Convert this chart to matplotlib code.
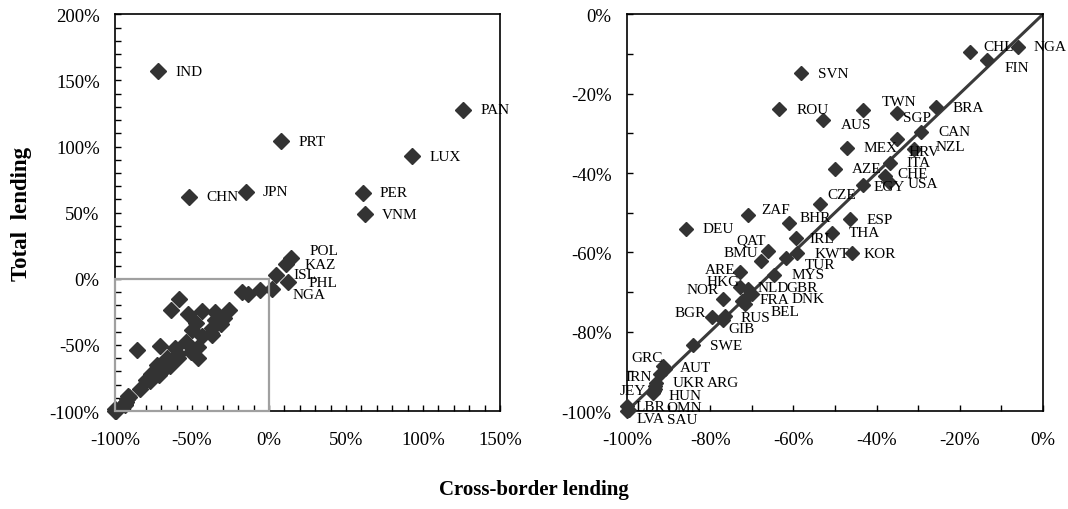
import matplotlib
matplotlib.use("Agg")
import matplotlib.pyplot as plt
from matplotlib.ticker import PercentFormatter, MultipleLocator
from matplotlib.patches import Rectangle, ConnectionPatch

plt.rcParams["font.family"] = ["Liberation Serif", "DejaVu Serif"]
plt.rcParams["axes.unicode_minus"] = False

# countries outside the -100%..0% box (only on the left panel)
out_names = ['IND', 'PAN', 'PRT', 'LUX', 'CHN', 'JPN', 'PER', 'VNM',
             'POL', 'KAZ', 'ISL', 'PHL', 'NGA']
out_cross = [-72, 126, 8, 93, -52, -15, 61, 62, 14.5, 11, 4.5, 12, 2]
out_total = [157, 128, 104, 92.5, 62, 66, 65, 49, 15.5, 11, 3, -2.5, -7.5]

# countries inside the box (both panels, labelled on the right)
in_names = ['CHL', 'FIN', 'NGA', 'SVN', 'ROU', 'AUS', 'TWN', 'SGP', 'BRA', 'CAN',
            'MEX', 'HRV', 'NZL', 'ITA', 'AZE', 'CHE', 'EGY', 'USA', 'CZE', 'ZAF',
            'DEU', 'BHR', 'ESP', 'THA', 'IRL', 'KOR', 'KWT', 'QAT', 'BMU', 'TUR',
            'MYS', 'ARE', 'HKG', 'NOR', 'NLD', 'GBR', 'FRA', 'DNK', 'BEL', 'BGR',
            'RUS', 'GIB', 'SWE', 'GRC', 'AUT', 'ARG', 'IRN', 'UKR', 'JEY', 'HUN',
            'OMN', 'LBR', 'LVA', 'SAU']
in_cross = [-17.5, -13.5, -5.9, -58.2, -63.4, -52.8, -43.3, -35, -25.7, -29.3,
            -47.2, -35, -31, -36.8, -50, -38, -43.3, -37, -53.6, -70.8,
            -85.9, -61, -46.4, -50.8, -59.4, -46, -59, -66, -67.8, -61.8,
            -64.6, -72.8, -72.8, -76.9, -70.8, -70, -72.4, -71, -71.6, -79.6,
            -76.4, -77, -84.1, -91.3, -90.9, -92.1, -92.9, -93.3, -93.5, -93.3,
            -93.8, -100, -100, -99.5]
in_total = [-9.6, -11.6, -8.2, -14.9, -23.9, -26.6, -24.2, -24.8, -23.3, -29.6,
            -33.6, -31.5, -34, -37.4, -38.9, -40.7, -43.1, -42.3, -47.9, -50.6,
            -54, -52.5, -51.6, -55, -56.5, -60.2, -60.2, -59.6, -62.1, -61.3,
            -65.7, -64.9, -68.8, -71.8, -69.3, -70.5, -72.2, -71, -73, -76.2,
            -76.1, -77, -83.4, -88.6, -89.4, -90.7, -92.8, -93.6, -95, -94.5,
            -95.5, -98.8, -100, -99.8]

diag = [-100, 0]

# label offsets in pixels (dx, dy) where they differ from the default
out_off = {'POL': (18, 8), 'KAZ': (19, 0), 'PHL': (21, 0), 'NGA': (20, -6)}
in_off = {
    'CHL': (13, 6), 'FIN': (18, -7), 'NGA': (15, 0), 'AUS': (18, -5), 'TWN': (19, 9),
    'SGP': (6, -5), 'BRA': (17, -1), 'HRV': (11, -12), 'NZL': (22, 3), 'CHE': (13, 2),
    'EGY': (11, -1), 'USA': (19, -1), 'CZE': (7, 10), 'ZAF': (13, 6), 'BHR': (10, 5),
    'IRL': (14, 0), 'KOR': (12, 0), 'QAT': (-32, 11), 'BMU': (-37, 8), 'TUR': (19, -7),
    'ARE': (-35, 2), 'HKG': (-34, 6), 'NOR': (-36, 10), 'NLD': (9, 2), 'GBR': (35, 7),
    'FRA': (18, 1), 'DNK': (44, -2), 'BEL': (25, -8), 'BGR': (-37, 4), 'RUS': (15, -1),
    'GIB': (6, -9), 'GRC': (-32, 8), 'AUT': (15, 2), 'ARG': (47, -8), 'IRN': (-31, 6),
    'UKR': (18, 3), 'JEY': (-34, 1), 'HUN': (14, -6), 'OMN': (14, -14), 'LBR': (9, 0),
    'LVA': (10, -7), 'SAU': (38, -9)}

mk = '#333333'
fig = plt.figure(figsize=(10.68, 5.10), dpi=100)
ax1 = fig.add_axes([0.1077, 0.192, 0.3605, 0.778])
ax2 = fig.add_axes([0.587, 0.192, 0.3895, 0.778])

# left panel: all countries
ax1.plot(out_cross, out_total, 'D', color=mk, ms=8, mec=mk, linestyle='none', zorder=3)
ax1.plot(in_cross, in_total, 'D', color=mk, ms=8, mec=mk, linestyle='none', zorder=3,
         clip_on=False)
for n, x, y in zip(out_names, out_cross, out_total):
    dx, dy = out_off.get(n, (17, 0))
    ax1.annotate(n, (x, y), xytext=(dx, dy), textcoords='offset pixels',
                 ha='left', va='center', fontsize=11)
ax1.set_xlim(-100, 150)
ax1.set_ylim(-100, 200)
ax1.xaxis.set_major_locator(MultipleLocator(50))
ax1.xaxis.set_minor_locator(MultipleLocator(10))
ax1.yaxis.set_major_locator(MultipleLocator(50))
ax1.yaxis.set_minor_locator(MultipleLocator(10))

# grey box marking the zoomed region
ax1.add_patch(Rectangle((-100, -100), 100, 100, fill=False, ec='#a0a0a0', lw=1.6,
                        zorder=5, clip_on=False))

# right panel: zoom into the box
ax2.plot(diag, diag, color='#3a3a3a', lw=2.2, zorder=2)
ax2.plot(in_cross, in_total, 'D', color=mk, ms=7.5, mec=mk, linestyle='none', zorder=3,
         clip_on=False)
for n, x, y in zip(in_names, in_cross, in_total):
    dx, dy = in_off.get(n, (17, 0))
    ax2.annotate(n, (x, y), xytext=(dx, dy), textcoords='offset pixels',
                 ha='left', va='center', fontsize=11, annotation_clip=False)
ax2.set_xlim(-100, 0)
ax2.set_ylim(-100, 0)
ax2.xaxis.set_major_locator(MultipleLocator(20))
ax2.xaxis.set_minor_locator(MultipleLocator(10))
ax2.yaxis.set_major_locator(MultipleLocator(20))
ax2.yaxis.set_minor_locator(MultipleLocator(10))

for ax in (ax1, ax2):
    ax.xaxis.set_major_formatter(PercentFormatter(decimals=0))
    ax.yaxis.set_major_formatter(PercentFormatter(decimals=0))
    ax.tick_params(which='both', direction='in', length=4, width=1, colors='black')
    ax.tick_params(axis='y', which='major', labelsize=13.5, pad=11)
    ax.tick_params(axis='x', which='major', labelsize=13.5, pad=14)
    for s in ax.spines.values():
        s.set_linewidth(1.2)
        s.set_color('black')

# arrow from the box to the zoomed panel
con = ConnectionPatch(xyA=(0, -64), coordsA='data', axesA=ax1,
                      xyB=(-104, -70), coordsB='data', axesB=ax2,
                      arrowstyle='-|>', color='#999999', lw=1.6, mutation_scale=12)
fig.add_artist(con)

fig.text(22 / 1068, 0.58, 'Total  lending', rotation=90, ha='center', va='center',
         fontsize=16.5, fontweight='bold')
fig.text(534 / 1068, 0.039, 'Cross-border lending', ha='center', va='center',
         fontsize=15, fontweight='bold')

plt.savefig('out.png', dpi=100)
